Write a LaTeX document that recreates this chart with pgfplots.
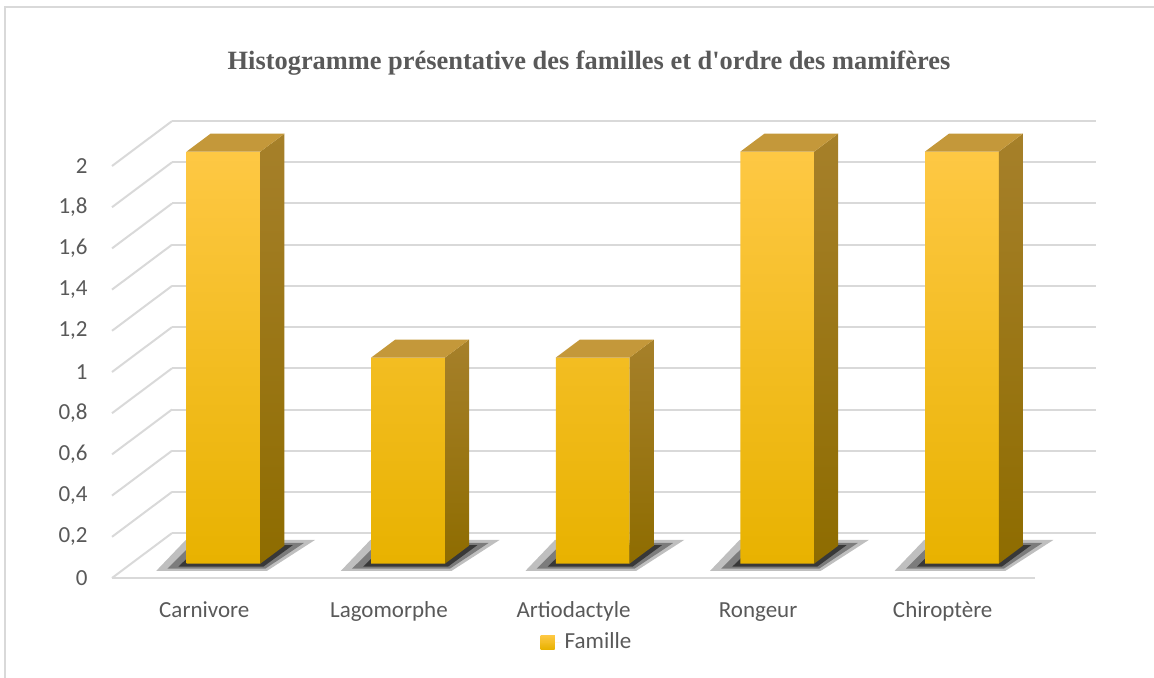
\documentclass[border=0pt]{standalone}
\usepackage{pgfplots}
\usepackage{pgfplotstable}
\pgfplotsset{compat=1.18}
\usepackage{fontspec}
\setmainfont{Carlito}
\newfontfamily\titlefont{Liberation Serif}
\definecolor{txt}{RGB}{89,89,89}
\definecolor{gridc}{RGB}{217,217,217}
\definecolor{ftop}{RGB}{254,200,68}
\definecolor{fmid}{RGB}{255,194,8}
\definecolor{fbot}{RGB}{232,178,0}
\definecolor{stop}{RGB}{166,128,42}
\definecolor{sbot}{RGB}{142,108,0}
\definecolor{ttop}{RGB}{196,152,58}

\pgfplotstableread{
x v
0 2
1 1
2 1
3 2
4 2
}\datatable

\pgfplotstableread{
dx dy
-0.26 -0.035
-0.10 0.115
0.60 0.115
0.34 -0.035
}\shadowA
\pgfplotstableread{
dx dy
-0.20 -0.025
-0.06 0.100
0.54 0.100
0.33 -0.025
}\shadowB
\pgfplotstableread{
dx dy
-0.14 -0.015
-0.02 0.090
0.48 0.090
0.32 -0.015
}\shadowC

\begin{document}
\begin{tikzpicture}
\useasboundingbox (0,0) rectangle (577pt,338.5pt);
\draw[gridc, line width=0.8pt] (2.5pt,-20pt) -- (2.5pt,335pt) -- (600pt,335pt);
\node[font=\titlefont\bfseries\fontsize{13.2}{15}\selectfont, text=txt, anchor=base] at (294.5pt,304pt) {Histogramme présentative des familles et d'ordre des mamifères};
\begin{axis}[
  at={(56pt,49.5pt)}, anchor=south west,
  x=92.3pt, y=103pt,
  xmin=-0.5, xmax=4.85, ymin=-0.07, ymax=2.25,
  clip=false,
  axis line style={draw=none},
  major tick length=0pt,
  xtick={0,1,2,3,4},
  xticklabels={Carnivore,Lagomorphe,Artiodactyle,Rongeur,Chiroptère},
  ytick={-0.07,0.13,0.33,0.53,0.73,0.93,1.13,1.33,1.53,1.73,1.93},
  yticklabels={0,{0,2},{0,4},{0,6},{0,8},1,{1,2},{1,4},{1,6},{1,8},2},
  tick label style={font=\fontsize{11.5}{13}\selectfont, text=txt},
  xticklabel style={anchor=base, yshift=-19.5pt},
  yticklabel style={anchor=east, inner sep=0pt, xshift=-12pt},
  legend style={at={(0.482,-0.134)}, anchor=center, draw=none, fill=none,
    font=\fontsize{11.5}{13}\selectfont, text=txt},
  legend cell align=left,
  legend image code/.code={\fill[draw=none, top color=ftop, bottom color=fbot] (0pt,-3.5pt) rectangle (7pt,3.5pt); \path (0pt,0pt) -- (10pt,0pt);},
]
\addlegendimage{draw=none, fill=ftop}
\addlegendentry{Famille}

% back wall gridlines
\addplot[gridc, line width=1pt, forget plot, unbounded coords=jump] coordinates {
(-0.175,0.148) (4.83,0.148) (0,nan)
(-0.175,0.348) (4.83,0.348) (0,nan)
(-0.175,0.548) (4.83,0.548) (0,nan)
(-0.175,0.748) (4.83,0.748) (0,nan)
(-0.175,0.948) (4.83,0.948) (0,nan)
(-0.175,1.148) (4.83,1.148) (0,nan)
(-0.175,1.348) (4.83,1.348) (0,nan)
(-0.175,1.548) (4.83,1.548) (0,nan)
(-0.175,1.748) (4.83,1.748) (0,nan)
(-0.175,1.948) (4.83,1.948) (0,nan)
(-0.175,2.148) (4.83,2.148)
};
% left wall diagonals
\addplot[gridc, line width=1pt, forget plot, unbounded coords=jump] coordinates {
(-0.5,-0.07) (-0.175,0.148) (0,nan)
(-0.5,0.13) (-0.175,0.348) (0,nan)
(-0.5,0.33) (-0.175,0.548) (0,nan)
(-0.5,0.53) (-0.175,0.748) (0,nan)
(-0.5,0.73) (-0.175,0.948) (0,nan)
(-0.5,0.93) (-0.175,1.148) (0,nan)
(-0.5,1.13) (-0.175,1.348) (0,nan)
(-0.5,1.33) (-0.175,1.548) (0,nan)
(-0.5,1.53) (-0.175,1.748) (0,nan)
(-0.5,1.73) (-0.175,1.948) (0,nan)
(-0.5,1.93) (-0.175,2.148)
};
% floor front edge
\addplot[gridc, line width=1pt, forget plot] coordinates {(-0.5,-0.07) (4.5,-0.07)};

% shadows
\pgfplotsinvokeforeach{0,1,2,3,4}{
  \addplot[fill=black, draw=none, opacity=0.25, forget plot] table[x expr=\thisrow{dx}+#1, y=dy]{\shadowA};
  \addplot[fill=black, draw=none, opacity=0.35, forget plot] table[x expr=\thisrow{dx}+#1, y=dy]{\shadowB};
  \addplot[fill=black, draw=none, opacity=0.55, forget plot] table[x expr=\thisrow{dx}+#1, y=dy]{\shadowC};
}

% front faces
\addplot[ybar, bar width=36.92pt, bar shift=9.6pt, draw=none,
  top color=ftop, middle color=fmid, bottom color=fbot, forget plot]
  table[x=x, y=v]{\datatable};

% side faces
\addplot[draw=none, top color=stop, bottom color=sbot, forget plot] coordinates {(0.304,0) (0.434,0.087) (0.434,2.087) (0.304,2)};
\addplot[draw=none, top color=stop, bottom color=sbot, forget plot] coordinates {(1.304,0) (1.434,0.087) (1.434,1.087) (1.304,1)};
\addplot[draw=none, top color=stop, bottom color=sbot, forget plot] coordinates {(2.304,0) (2.434,0.087) (2.434,1.087) (2.304,1)};
\addplot[draw=none, top color=stop, bottom color=sbot, forget plot] coordinates {(3.304,0) (3.434,0.087) (3.434,2.087) (3.304,2)};
\addplot[draw=none, top color=stop, bottom color=sbot, forget plot] coordinates {(4.304,0) (4.434,0.087) (4.434,2.087) (4.304,2)};
% top faces
\addplot[draw=none, fill=ttop, forget plot] coordinates {(-0.096,2) (0.304,2) (0.434,2.087) (0.034,2.087)};
\addplot[draw=none, fill=ttop, forget plot] coordinates {(0.904,1) (1.304,1) (1.434,1.087) (1.034,1.087)};
\addplot[draw=none, fill=ttop, forget plot] coordinates {(1.904,1) (2.304,1) (2.434,1.087) (2.034,1.087)};
\addplot[draw=none, fill=ttop, forget plot] coordinates {(2.904,2) (3.304,2) (3.434,2.087) (3.034,2.087)};
\addplot[draw=none, fill=ttop, forget plot] coordinates {(3.904,2) (4.304,2) (4.434,2.087) (4.034,2.087)};
\end{axis}
\end{tikzpicture}
\end{document}
